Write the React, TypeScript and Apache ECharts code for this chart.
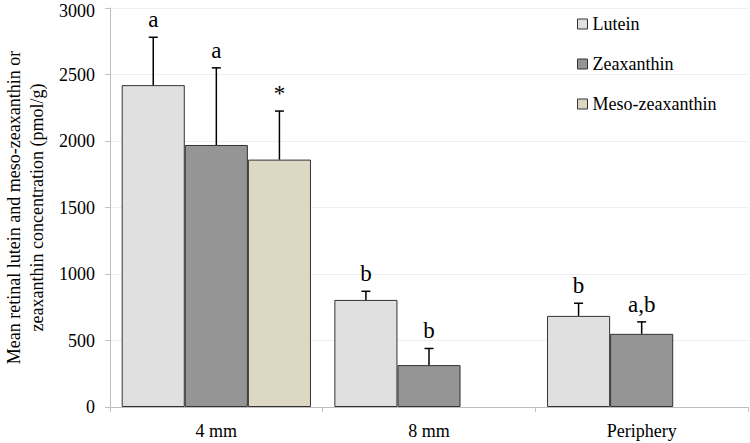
import React, { useEffect, useRef } from "react";
import * as echarts from "echarts";

const categories = ["4 mm", "8 mm", "Periphery"];
const seriesNames = ["Lutein", "Zeaxanthin", "Meso-zeaxanthin"];
const lutein = [2420, 805, 685];
const zeaxanthin = [1970, 315, 550];
const meso: (number | null)[] = [1860, null, null];
const luteinErrTop = [2780, 870, 780];
const zeaxanthinErrTop = [2550, 440, 640];
const mesoErrTop: (number | null)[] = [2225, null, null];
const luteinLabels = ["a", "b", "b"];
const zeaxanthinLabels = ["a", "b", "a,b"];
const mesoLabels = ["*", "", ""];
const yTicks = { min: 0, max: 3000, interval: 500 };

const colors = ["#e0e0e0", "#959595", "#ddd8c3"];
const FONT = "Liberation Serif";
const CAT_GAP = 0.11;

function errorSeries(
  slot: number,
  values: (number | null)[],
  tops: (number | null)[],
  labels: string[]
) {
  const data = values
    .map((v, i) => (v == null || tops[i] == null ? null : [i, v, tops[i] as number, slot]))
    .filter((d) => d != null);
  return {
    type: "custom",
    z: 10,
    silent: true,
    encode: { x: 0, y: [1, 2] },
    data,
    renderItem: (params: any, api: any) => {
      const cat = api.value(0);
      const mean = api.value(1);
      const top = api.value(2);
      const s = api.value(3);
      const band = api.size([1, 0])[0];
      const barW = (band * (1 - CAT_GAP)) / 3;
      const base = api.coord([cat, mean]);
      const tp = api.coord([cat, top]);
      const x = base[0] + (s - 1) * barW;
      const label = labels[cat as number] || "";
      const stroke = { stroke: "#000", lineWidth: 1.5 };
      return {
        type: "group",
        children: [
          { type: "line", shape: { x1: x, y1: base[1], x2: x, y2: tp[1] }, style: stroke },
          { type: "line", shape: { x1: x - 4.5, y1: tp[1], x2: x + 4.5, y2: tp[1] }, style: stroke },
          {
            type: "text",
            x: x,
            y: tp[1] - 6,
            style: {
              text: label,
              fill: "#000",
              fontFamily: FONT,
              fontSize: 23,
              textAlign: "center",
              textVerticalAlign: "bottom",
            },
          },
        ],
      };
    },
  };
}

export default function App() {
  const ref = useRef<HTMLDivElement>(null);
  useEffect(() => {
    document.body.style.margin = "0";
    if (!ref.current) return;
    const chart = echarts.init(ref.current, undefined, { renderer: "svg" });
    const barBase = {
      type: "bar",
      barGap: "0%",
      barCategoryGap: `${CAT_GAP * 100}%`,
    };
    chart.setOption({
      animation: false,
      backgroundColor: "#fff",
      textStyle: { fontFamily: FONT },
      grid: {
        left: 110,
        right: 2,
        top: 8,
        bottom: 36,
        containLabel: false,
        outerBoundsMode: "none",
      },
      legend: {
        data: seriesNames,
        orient: "vertical",
        left: 572,
        top: 9,
        itemWidth: 10,
        itemHeight: 10,
        itemGap: 20,
        icon: "rect",
        itemStyle: { borderColor: "#333", borderWidth: 1 },
        textStyle: { fontFamily: FONT, fontSize: 18, color: "#000", lineHeight: 20 },
      },
      xAxis: {
        type: "category",
        data: categories,
        axisLine: { lineStyle: { color: "#bfbfbf", width: 1 } },
        axisTick: { show: true, length: 5, lineStyle: { color: "#bfbfbf" } },
        axisLabel: { fontFamily: FONT, fontSize: 18, color: "#000", margin: 15 },
      },
      yAxis: {
        type: "value",
        min: yTicks.min,
        max: yTicks.max,
        interval: yTicks.interval,
        name: "Mean retinal lutein and meso-zeaxanthin or\nzeaxanthin concentration (pmol/g)",
        nameLocation: "middle",
        nameGap: 58,
        nameTextStyle: { fontFamily: FONT, fontSize: 18, color: "#000", lineHeight: 23 },
        axisLine: { show: true, lineStyle: { color: "#bfbfbf", width: 1 } },
        axisTick: { show: true, length: 5, lineStyle: { color: "#bfbfbf" } },
        axisLabel: {
          fontFamily: FONT,
          fontSize: 18,
          color: "#000",
          margin: 15,
          formatter: (v: number) => (v === yTicks.max ? `{top|${v}}` : String(v)),
          rich: {
            top: {
              fontFamily: FONT,
              fontSize: 18,
              color: "#000",
              padding: [5, 0, 0, 0],
            },
          },
        },
        splitLine: { show: true, lineStyle: { color: "#efefef", width: 1 } },
      },
      series: [
        {
          ...barBase,
          name: seriesNames[0],
          data: lutein,
          itemStyle: { color: colors[0], borderColor: "#333", borderWidth: 1 },
        },
        {
          ...barBase,
          name: seriesNames[1],
          data: zeaxanthin,
          itemStyle: { color: colors[1], borderColor: "#333", borderWidth: 1 },
        },
        {
          ...barBase,
          name: seriesNames[2],
          data: meso,
          itemStyle: { color: colors[2], borderColor: "#333", borderWidth: 1 },
        },
        errorSeries(0, lutein, luteinErrTop, luteinLabels),
        errorSeries(1, zeaxanthin, zeaxanthinErrTop, zeaxanthinLabels),
        errorSeries(2, meso, mesoErrTop, mesoLabels),
      ],
    });
    return () => chart.dispose();
  }, []);
  return (
    <div
      ref={ref}
      style={{ position: "absolute", left: 0, top: 0, width: 750, height: 443 }}
    />
  );
}
